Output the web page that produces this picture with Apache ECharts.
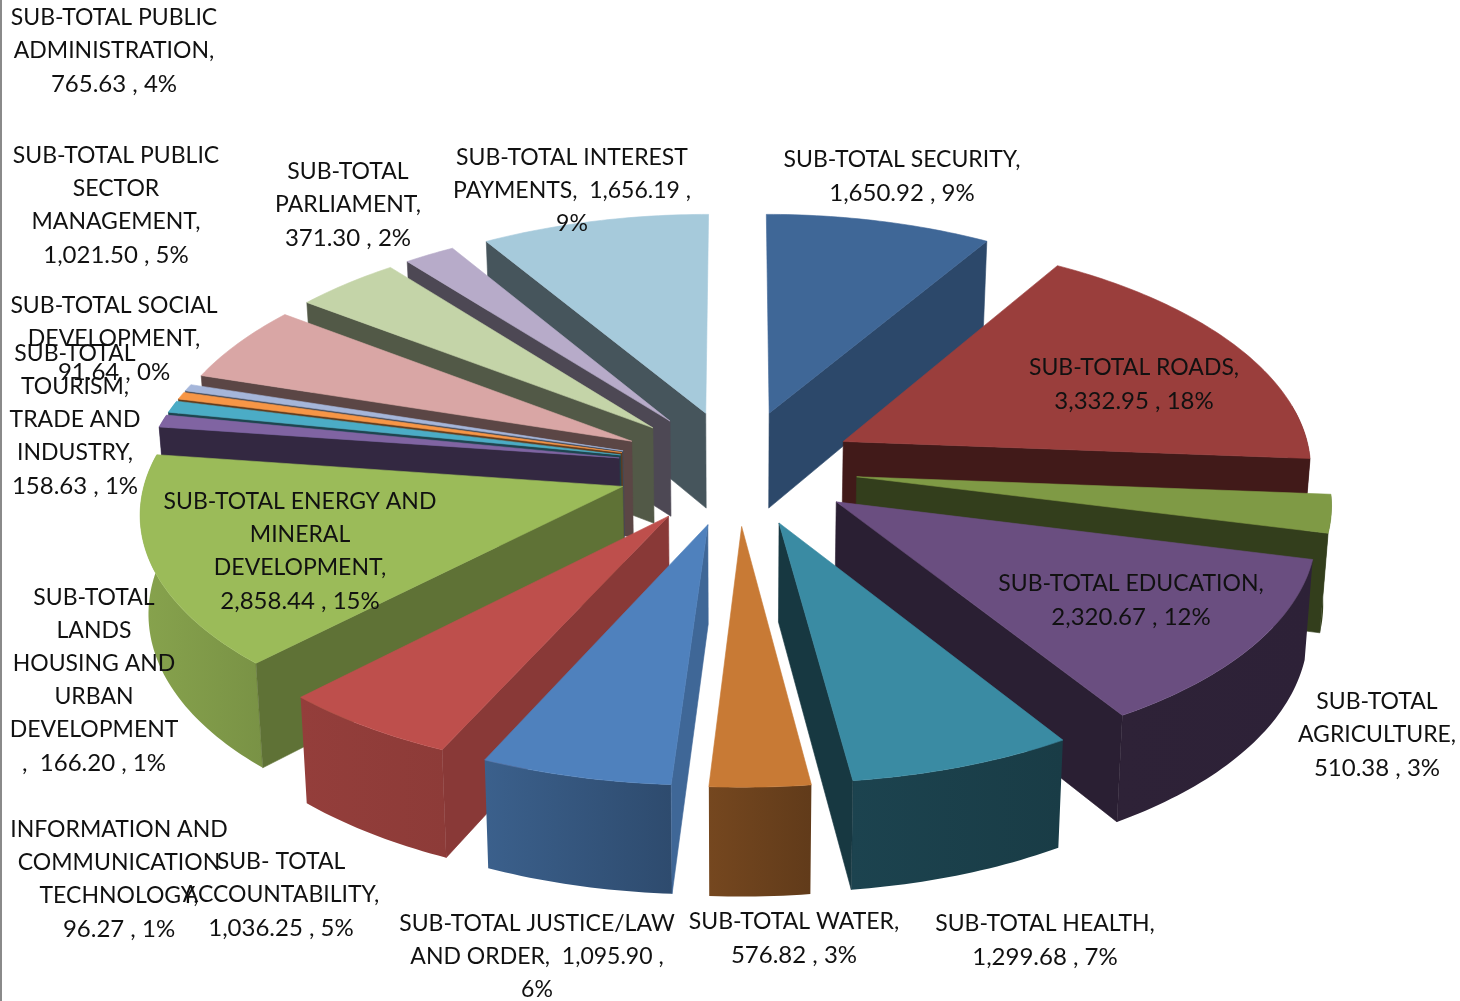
<!DOCTYPE html>
<html><head><meta charset="utf-8">
<style>html,body{margin:0;padding:0;background:#fff}#c{width:1460px;height:1001px}</style>
<script src="https://cdn.jsdelivr.net/npm/echarts@6/dist/echarts.min.js"></script>
</head><body><div id="c"></div>
<script>
const categories = ['Security','Roads','Agriculture','Education','Health','Water','Justice/Law and Order','Accountability','Energy and Mineral Development','Lands Housing and Urban Development','Tourism, Trade and Industry','Information and Communication Technology','Social Development','Public Sector Management','Public Administration','Parliament','Interest Payments'];
const values = [1650.92,3332.95,510.38,2320.67,1299.68,576.82,1095.90,1036.25,2858.44,166.20,158.63,96.27,91.64,1021.50,765.63,371.30,1656.19];
const labelTemplates = [
 ['SUB-TOTAL SECURITY,','{v} , {p}'],
 ['SUB-TOTAL ROADS,','{v} , {p}'],
 ['SUB-TOTAL','AGRICULTURE,','{v} , {p}'],
 ['SUB-TOTAL EDUCATION,','{v} , {p}'],
 ['SUB-TOTAL HEALTH,','{v} , {p}'],
 ['SUB-TOTAL WATER,','{v} , {p}'],
 ['SUB-TOTAL JUSTICE/LAW','AND ORDER,  {v} ,','{p}'],
 ['SUB- TOTAL','ACCOUNTABILITY,','{v} , {p}'],
 ['SUB-TOTAL ENERGY AND','MINERAL','DEVELOPMENT,','{v} , {p}'],
 ['SUB-TOTAL','LANDS','HOUSING AND','URBAN','DEVELOPMENT',',  {v} , {p}'],
 ['SUB-TOTAL','TOURISM,','TRADE AND','INDUSTRY,','{v} , {p}'],
 ['INFORMATION AND','COMMUNICATION','TECHNOLOGY,','{v} , {p}'],
 ['SUB-TOTAL SOCIAL','DEVELOPMENT,','{v} , {p}'],
 ['SUB-TOTAL PUBLIC','SECTOR','MANAGEMENT,','{v} , {p}'],
 ['SUB-TOTAL PUBLIC','ADMINISTRATION,','{v} , {p}'],
 ['SUB-TOTAL','PARLIAMENT,','{v} , {p}'],
 ['SUB-TOTAL INTEREST','PAYMENTS,  {v} ,','{p}']
];
// styling and layout
const topColors = ['#3f6797','#9a3e3c','#7f9a45','#6a4e80','#3a8ba3','#c87a35','#4f81bd','#be4f4c','#9bbb59','#8064a2','#4bacc6','#f79646','#a5b6da','#d9a6a5','#c4d4a8','#b7abc9','#a6cadb'];
const radialShade = [.7,.42,.4,.4,.4,.4,.8,.72,.61,.4,.4,.4,.4,.42,.42,.42,.42];
const labelCenters = [[902,160],[1134,368],[1377,702],[1131,584],[1045,924],[794,922],[537,924],[281,862],[300,502],[94,598],[75,354],[119,830],[114,306],[116,156],[114,18],[348,172],[572,158]];
const FONT = 'Lato', FONT_SIZE = 23, VALUE_FONT_SIZE = 24, LINE = 33;
const CX = 737.5, CY = 467.5, RX = 472, KY = 226, EXPLODE = 0.255, PERSP_Y = 0.09, PERSP_X = 0.10, HEIGHT = 97, SKEW = 0.004, LEAN = 0.014;

const total = values.reduce((a,b)=>a+b,0);
const starts = [];
values.reduce((acc,v)=>{starts.push(acc);return acc+v;},0);
const toAngle = v => v/total*Math.PI*2;
const fmt = v => v.toLocaleString('en-US',{minimumFractionDigits:2,maximumFractionDigits:2});
const project = (px,py,h) => {
  const s = 1/(1-py*PERSP_Y), sx = 1/(1-py*PERSP_X);
  return [CX+px*RX*(1-SKEW*px)*sx*(1-LEAN*h/HEIGHT), CY+py*KY*s+h*s];
};
const shadeTable = [[0,.42],[150,.43],[172,.48],[183,.58],[204,.74],[224,.78],[250,.87],[360,.87]];
function outerShade(deg){
  for(let i=1;i<shadeTable.length;i++){ if(deg<=shadeTable[i][0]){const a=shadeTable[i-1],b=shadeTable[i];return a[1]+(b[1]-a[1])*(deg-a[0])/(b[0]-a[0]);}}
  return .87;
}
function mul(hex,f){ const n=parseInt(hex.slice(1),16); const c=[n>>16,(n>>8)&255,n&255].map(x=>Math.round(x*f)); return `rgb(${c.join(',')})`; }
function poly(points,fill){ return {type:'polygon',shape:{points},style:{fill,stroke:typeof fill==='string'?fill:null,lineWidth:typeof fill==='string'?.6:0},silent:true}; }

function renderSlice(params,api){
  const i = api.value(0), v = api.value(1);
  const a0 = toAngle(starts[i]), a1 = a0+toAngle(v), mid=(a0+a1)/2;
  const ox = EXPLODE*Math.sin(mid), oy = -EXPLODE*Math.cos(mid);
  const col = topColors[i];
  const n = Math.max(2,Math.ceil((a1-a0)/(Math.PI/180)));
  const topArc=[],botArc=[],wallTop=[],wallBot=[];
  for(let k=0;k<=n;k++){
    const a=a0+(a1-a0)*k/n, x=ox+Math.sin(a), y=oy-Math.cos(a), deg=a*180/Math.PI;
    const t=project(x,y,0), b=project(x,y,HEIGHT);
    topArc.push(t); botArc.push(b);
    if(deg>=80&&deg<=285){wallTop.push(t);wallBot.push(b);}
  }
  const tipT=project(ox,oy,0), tipB=project(ox,oy,HEIGHT);
  const wallCol = mul(col,radialShade[i]);
  const children=[];
  const d0=a0*180/Math.PI, d1=a1*180/Math.PI;
  if(wallTop.length>1){
    const wallGrad = new echarts.graphic.LinearGradient(0,0,1,0,[{offset:0,color:mul(col,outerShade(Math.min(d1,285)))},{offset:1,color:mul(col,outerShade(Math.max(d0,80)))}]);
    children.push(poly(wallTop.concat(wallBot.slice().reverse()),wallGrad));
  }
  if(d1<180) children.push(poly([tipT,tipB,botArc[n],topArc[n]],wallCol));
  if(d0>180) children.push(poly([tipT,tipB,botArc[0],topArc[0]],wallCol));
  children.push(poly([tipT].concat(topArc),col));
  return {type:'group',children};
}

const order = values.map((v,i)=>i).sort((p,q)=>{
  const mp=toAngle(starts[p]+values[p]/2), mq=toAngle(starts[q]+values[q]/2);
  return (-Math.cos(mp))-(-Math.cos(mq));
});

const labelGraphics = labelTemplates.map((lines,i)=>{
  const pct = Math.round(values[i]/total*100)+'%';
  const text = lines.map(l=>{
    const filled = l.replace('{v}',fmt(values[i])).replace('{p}',pct);
    return (l.includes('{v} , {p}')?'{n|':'{t|')+filled+'}';
  }).join('\n');
  return {type:'text',x:labelCenters[i][0],y:labelCenters[i][1]-LINE/2,z:50,silent:true,
    style:{text,fill:'#111',fontFamily:FONT,fontSize:FONT_SIZE,lineHeight:LINE,align:'center',verticalAlign:'top',
      rich:{t:{fontFamily:FONT,fontSize:FONT_SIZE,lineHeight:LINE,fill:'#111'},n:{fontFamily:FONT,fontSize:VALUE_FONT_SIZE,lineHeight:LINE,fill:'#111'}}}};
});
labelGraphics.push({type:'rect',shape:{x:0,y:0,width:2,height:1001},style:{fill:'#8a8a8a'},silent:true,z:60});

const chart = echarts.init(document.getElementById('c'),null,{renderer:'canvas'});
chart.setOption({
  animation:false,
  backgroundColor:'#fff',
  series:[{type:'custom',coordinateSystem:'none',renderItem:renderSlice,
    data:order.map(i=>({name:categories[i],value:[i,values[i]]})),
    encode:{value:1},silent:true,clip:false}],
  graphic:{elements:labelGraphics}
});
</script></body></html>
